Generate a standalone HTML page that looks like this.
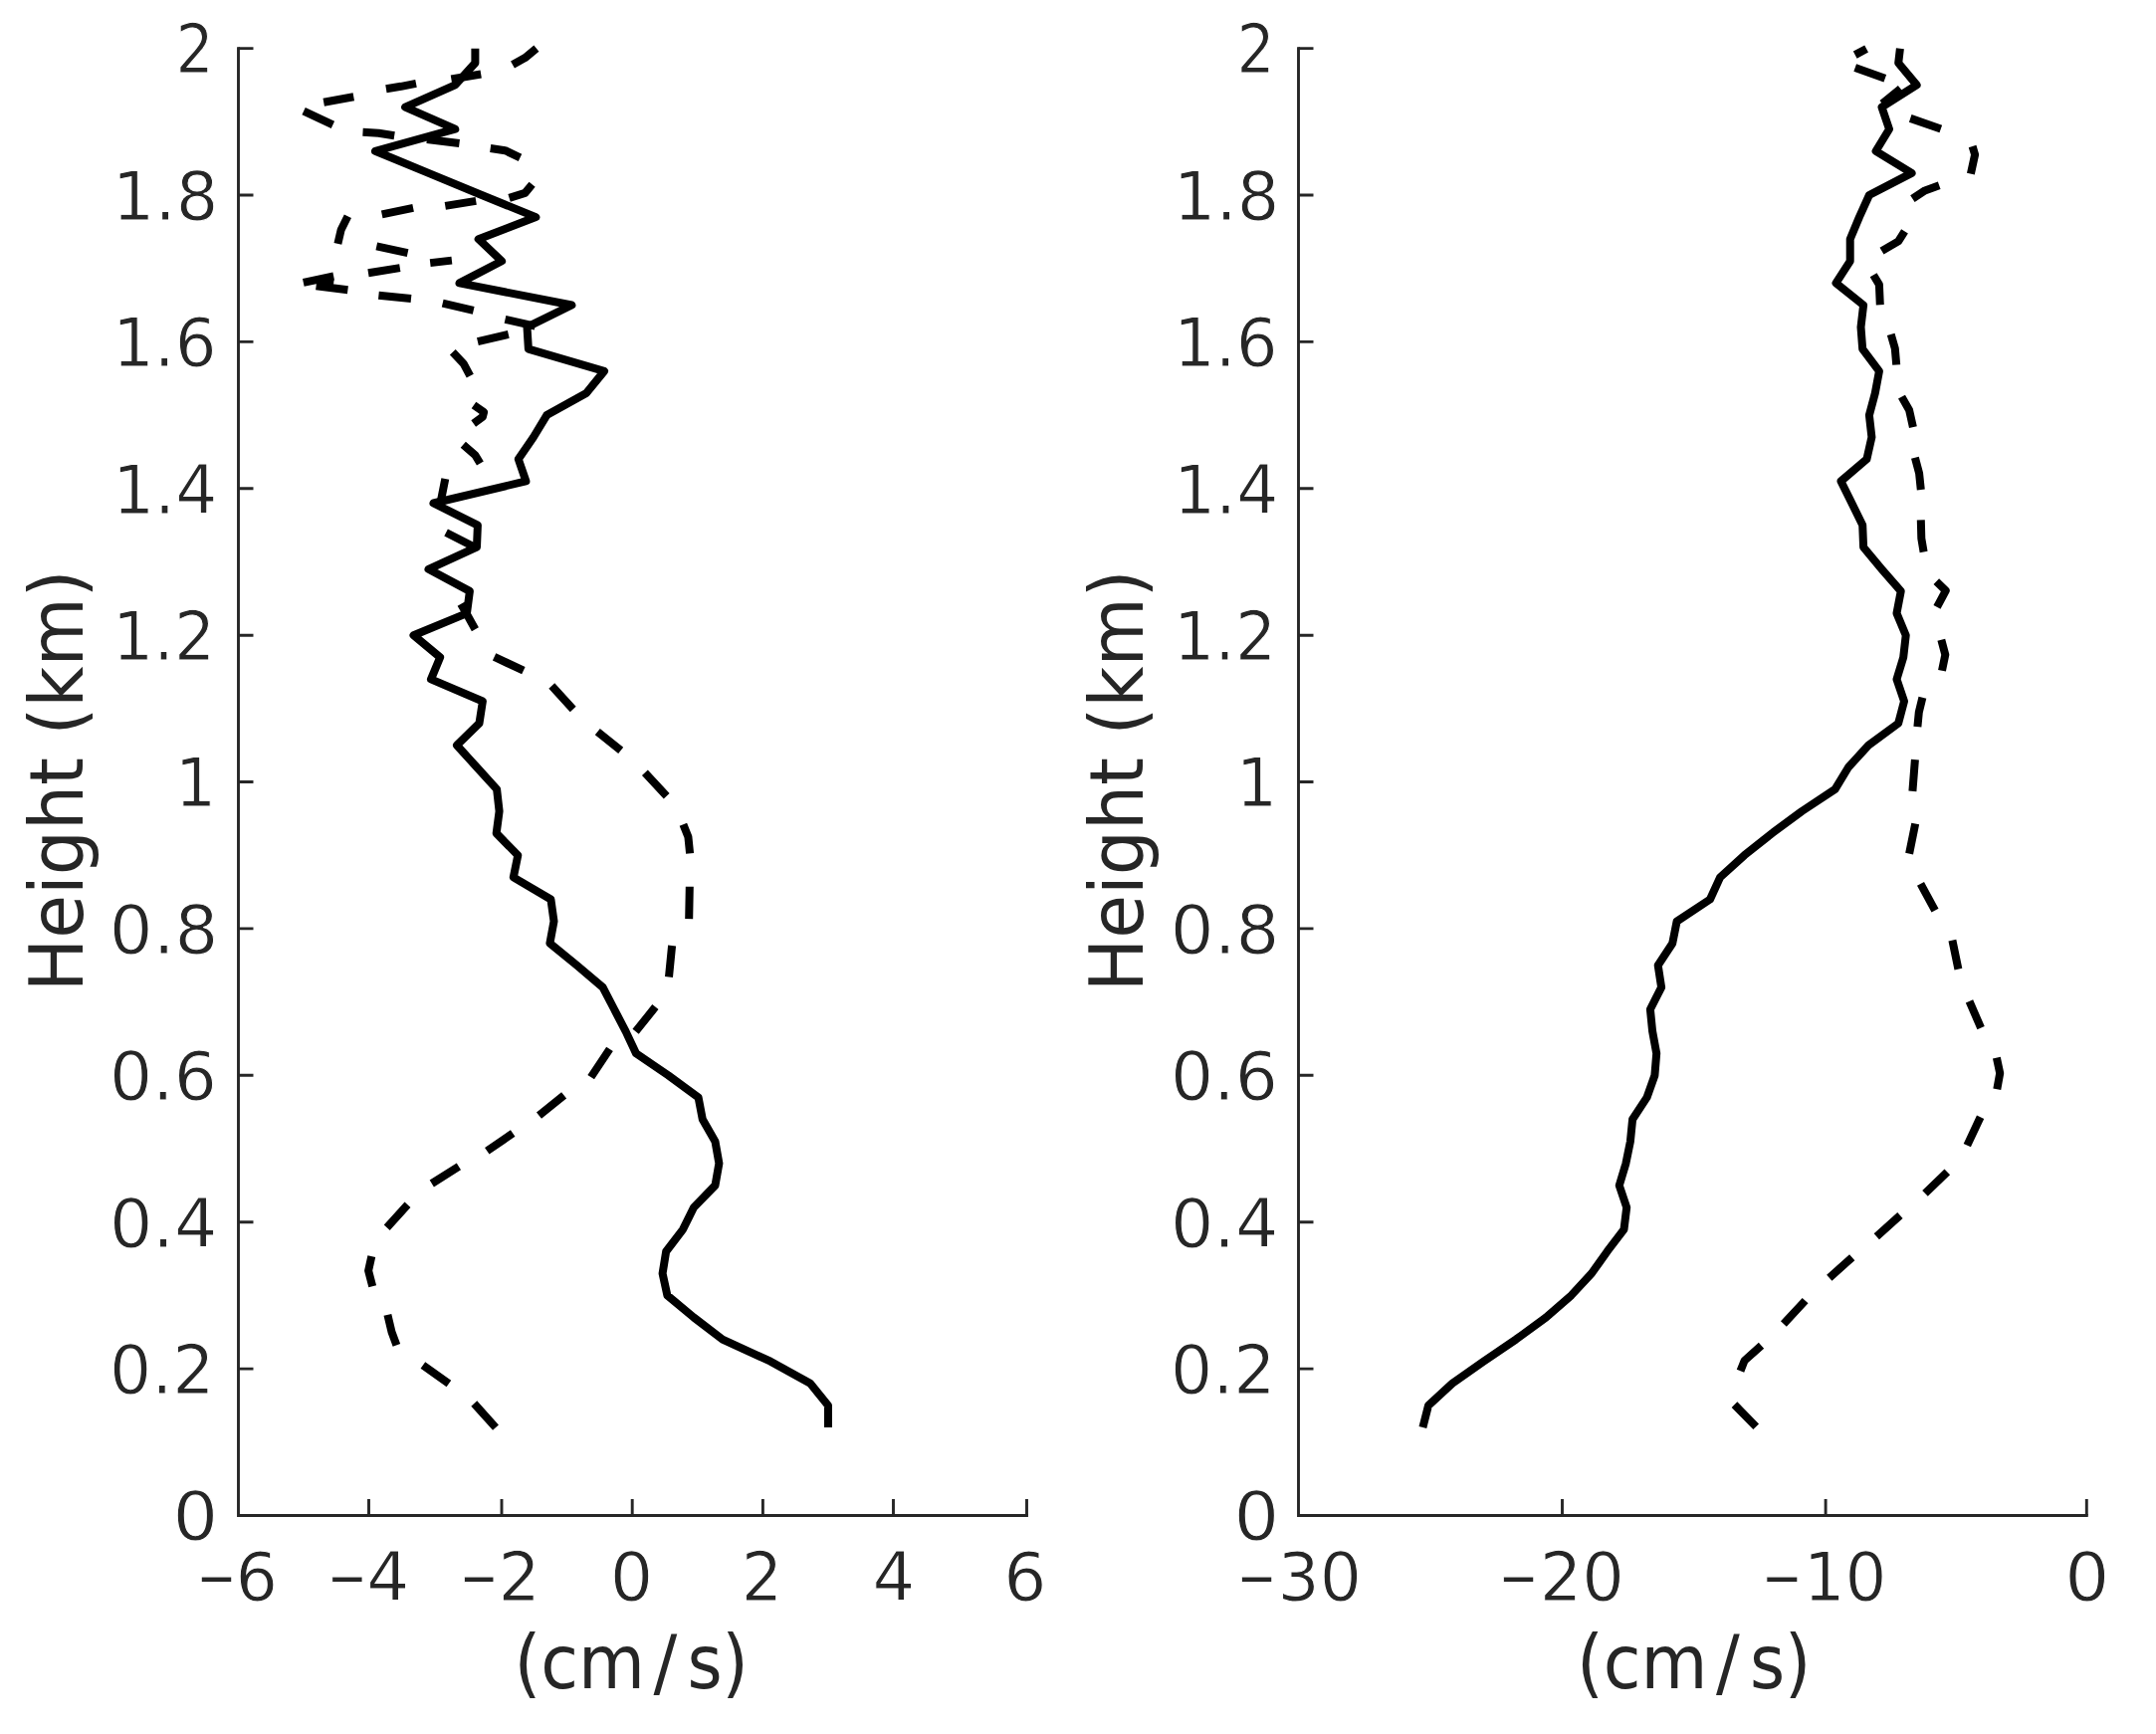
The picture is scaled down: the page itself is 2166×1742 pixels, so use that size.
<!DOCTYPE html>
<html><head><meta charset="utf-8"><title>Height profiles</title>
<style>
html,body{margin:0;padding:0;background:#fff;}
svg{display:block}
text{font-family:"DejaVu Sans","Liberation Sans",sans-serif;fill:#262626}
.t{font-size:68px;stroke:#fff;stroke-width:1px}
.l{font-size:74.5px}
.ax{stroke:#262626;stroke-width:2.9;fill:none;stroke-linecap:square}
.tk{stroke:#262626;stroke-width:2.9;fill:none}
.c{stroke:#000;stroke-width:8;fill:none;stroke-linejoin:round;stroke-linecap:butt}
</style></head><body>
<svg width="2166" height="1742" viewBox="0 0 2166 1742">
<rect width="2166" height="1742" fill="#fff"/>

<path class="ax" d="M239.5 48.7 V1522.5 H1031.5"/>
<text class="t" transform="matrix(1.0563 0 0 1 173.56 1547.30)">0</text>
<text class="t" transform="matrix(0.9769 0 0 1 109.92 1399.91)">0.2</text>
<text class="t" transform="matrix(1.0048 0 0 1 109.89 1252.52)">0.4</text>
<text class="t" transform="matrix(0.9975 0 0 1 109.92 1105.13)">0.6</text>
<text class="t" transform="matrix(1.0130 0 0 1 109.85 957.74)">0.8</text>
<text class="t" transform="matrix(0.9589 0 0 1 175.73 810.35)">1</text>
<text class="t" transform="matrix(0.9527 0 0 1 113.07 662.96)">1.2</text>
<text class="t" transform="matrix(0.9759 0 0 1 112.90 515.57)">1.4</text>
<text class="t" transform="matrix(0.9683 0 0 1 112.96 368.18)">1.6</text>
<text class="t" transform="matrix(0.9842 0 0 1 112.84 220.79)">1.8</text>
<text class="t" transform="matrix(0.8830 0 0 1 176.52 73.40)">2</text>
<text class="t" transform="matrix(0.7142 0 0 1 197.15 1607.80)">−</text>
<text class="t" transform="matrix(0.9853 0 0 1 236.51 1607.80)">6</text>
<text class="t" transform="matrix(0.7095 0 0 1 328.79 1607.80)">−</text>
<text class="t" transform="matrix(0.9970 0 0 1 368.18 1607.80)">4</text>
<text class="t" transform="matrix(0.6883 0 0 1 461.74 1607.80)">−</text>
<text class="t" transform="matrix(0.9783 0 0 1 500.44 1607.80)">2</text>
<text class="t" transform="matrix(1.0067 0 0 1 612.68 1607.80)">0</text>
<text class="t" transform="matrix(0.9592 0 0 1 744.84 1607.80)">2</text>
<text class="t" transform="matrix(0.9915 0 0 1 876.40 1607.80)">4</text>
<text class="t" transform="matrix(0.9999 0 0 1 1008.34 1607.80)">6</text>
<path class="tk" d="M239.5 1375.1 h15 M239.5 1227.7 h15 M239.5 1080.3 h15 M239.5 932.9 h15 M239.5 785.5 h15 M239.5 638.2 h15 M239.5 490.8 h15 M239.5 343.4 h15 M239.5 196.0 h15 M239.5 48.6 h15 M370.5 1522.5 v-16.5 M504.0 1522.5 v-16.5 M635.2 1522.5 v-16.5 M766.4 1522.5 v-16.5 M897.5 1522.5 v-16.5 M1031.5 1522.5 v-16.5"/>
<text class="l" transform="matrix(0.9226 0 0 1 516.39 1695.80)">(cm</text>
<text class="l" transform="matrix(0.9480 0 0 1 656.50 1695.80)">/</text>
<text class="l" transform="matrix(0.9053 0 0 1 690.46 1695.80)">s)</text>
<text class="l" transform="translate(82.8 784.3) rotate(-90) scale(0.955 1)" text-anchor="middle">Height (km)</text>
<path class="ax" d="M1304.5 48.7 V1522.5 H2096.3"/>
<text class="t" transform="matrix(1.0563 0 0 1 1239.56 1547.30)">0</text>
<text class="t" transform="matrix(0.9769 0 0 1 1175.92 1399.91)">0.2</text>
<text class="t" transform="matrix(1.0048 0 0 1 1175.89 1252.52)">0.4</text>
<text class="t" transform="matrix(0.9975 0 0 1 1175.92 1105.13)">0.6</text>
<text class="t" transform="matrix(1.0130 0 0 1 1175.85 957.74)">0.8</text>
<text class="t" transform="matrix(0.9589 0 0 1 1241.73 810.35)">1</text>
<text class="t" transform="matrix(0.9527 0 0 1 1179.07 662.96)">1.2</text>
<text class="t" transform="matrix(0.9759 0 0 1 1178.90 515.57)">1.4</text>
<text class="t" transform="matrix(0.9683 0 0 1 1178.96 368.18)">1.6</text>
<text class="t" transform="matrix(0.9842 0 0 1 1178.84 220.79)">1.8</text>
<text class="t" transform="matrix(0.8830 0 0 1 1242.52 73.40)">2</text>
<text class="t" transform="matrix(0.7095 0 0 1 1242.49 1607.80)">−</text>
<text class="t" transform="matrix(0.9761 0 0 1 1283.46 1607.80)">30</text>
<text class="t" transform="matrix(0.7095 0 0 1 1505.54 1607.80)">−</text>
<text class="t" transform="matrix(0.9864 0 0 1 1546.65 1607.80)">20</text>
<text class="t" transform="matrix(0.7259 0 0 1 1769.87 1607.80)">−</text>
<text class="t" transform="matrix(0.9701 0 0 1 1811.64 1607.80)">10</text>
<text class="t" transform="matrix(1.0417 0 0 1 2074.22 1607.80)">0</text>
<path class="tk" d="M1304.5 1375.1 h15 M1304.5 1227.7 h15 M1304.5 1080.3 h15 M1304.5 932.9 h15 M1304.5 785.5 h15 M1304.5 638.2 h15 M1304.5 490.8 h15 M1304.5 343.4 h15 M1304.5 196.0 h15 M1304.5 48.6 h15 M1569.5 1522.5 v-16.5 M1834.1 1522.5 v-16.5 M2096.3 1522.5 v-16.5"/>
<text class="l" transform="matrix(0.9226 0 0 1 1583.89 1695.80)">(cm</text>
<text class="l" transform="matrix(0.9480 0 0 1 1724.00 1695.80)">/</text>
<text class="l" transform="matrix(0.9053 0 0 1 1757.96 1695.80)">s)</text>
<text class="l" transform="translate(1147.8 784.3) rotate(-90) scale(0.955 1)" text-anchor="middle">Height (km)</text>
<path class="c" d="M832.0 1434.1 L832.0 1412.0 L814.0 1389.8 L774.1 1367.7 L725.9 1345.6 L697.0 1323.5 L670.4 1301.4 L665.6 1279.3 L669.2 1257.2 L686.1 1235.1 L697.0 1213.0 L718.5 1190.9 L722.4 1168.8 L718.5 1146.7 L705.8 1124.5 L701.6 1102.4 L671.3 1080.3 L639.0 1058.2 L628.6 1036.1 L617.1 1014.0 L605.6 991.9 L579.5 969.8 L552.4 947.7 L556.5 925.6 L553.4 903.5 L515.8 881.4 L520.3 859.2 L498.7 837.1 L501.6 815.0 L499.1 792.9 L479.0 770.8 L459.0 748.7 L481.5 726.6 L484.9 704.5 L433.0 682.4 L442.2 660.3 L415.5 638.2 L469.0 616.1 L471.9 593.9 L430.5 571.8 L479.0 549.7 L479.9 527.6 L435.5 505.5 L528.4 483.4 L520.8 461.3 L535.9 439.2 L549.3 417.1 L589.0 395.0 L607.0 372.9 L530.9 350.7 L529.5 328.6 L574.4 306.5 L461.5 284.4 L504.1 262.3 L480.7 240.2 L538.4 218.1 L484.0 196.0 L430.5 173.9 L377.0 151.8 L457.3 129.7 L407.1 107.6 L457.3 85.4 L477.4 63.3 L477.4 48.7"/>
<path class="c" d="M515.0 65.1 L527.5 58.1 L538.9 48.7 M453.4 79.5 L483.2 74.5 M387.9 89.3 L402.9 86.8 L418.0 83.8 M325.2 102.7 L355.3 97.2 M305.1 111.6 L334.4 125.3 M364.5 132.8 L380.4 133.7 L396.2 136.2 M428.9 140.0 L461.5 144.0 M492.7 149.0 L507.5 151.2 L522.5 158.4 M511.6 198.9 L527.5 193.9 L534.6 185.2 M447.3 206.9 L478.2 201.9 M383.7 215.3 L415.1 208.9 M349.4 217.3 L342.7 230.7 L339.4 244.9 M378.3 247.4 L409.6 254.1 M432.2 264.1 L453.9 261.6 M370.0 274.2 L401.8 269.1 M335.2 277.5 L304.8 283.9 M317.6 287.2 L349.4 291.2 M319.3 282.8 L335.2 284.5 M380.4 296.7 L413.0 300.1 M444.7 304.6 L475.7 311.8 M507.5 320.9 L537.6 327.6 M479.9 343.1 L510.8 335.9 M454.8 353.8 L465.6 365.2 L472.3 377.7 M476.0 407.0 L486.1 414.0 L484.9 418.7 L475.7 425.4 M465.3 446.8 L477.4 457.2 L482.4 465.5 M447.3 480.9 L443.1 502.3 M448.1 535.0 L476.5 549.5 M463.1 606.8 L469.8 618.5 L477.4 632.2 M496.6 659.9 L525.9 673.7 M554.3 689.0 L575.7 712.5 M600.3 735.2 L623.7 753.9 M647.9 776.3 L669.7 799.7 M686.4 828.2 L691.4 840.7 L693.1 857.4 M692.8 890.7 L692.2 923.1 M675.1 950.0 L672.0 981.5 M658.4 1011.6 L638.6 1036.2 M612.5 1053.9 L593.7 1082.1 M566.6 1100.3 L541.5 1120.7 M515.2 1138.5 L489.3 1156.2 M460.9 1171.9 L433.8 1189.0 M409.5 1210.3 L388.7 1233.2 M373.3 1262.2 L370.1 1276.6 L374.2 1292.3 M389.4 1320.8 L393.5 1338.1 L398.4 1351.4 M424.9 1371.4 L450.9 1390.0 M476.3 1410.0 L498.0 1434.1"/>
<path class="c" d="M1429.4 1434.1 L1435.0 1412.0 L1459.1 1389.8 L1490.4 1367.7 L1523.0 1345.6 L1553.2 1323.5 L1578.5 1301.4 L1599.0 1279.3 L1614.7 1257.2 L1631.5 1235.1 L1634.2 1213.0 L1626.8 1190.9 L1633.4 1168.8 L1637.9 1146.7 L1640.1 1124.5 L1654.6 1102.4 L1662.4 1080.3 L1664.2 1058.2 L1660.1 1036.1 L1657.9 1014.0 L1669.1 991.9 L1665.7 969.8 L1680.2 947.7 L1684.6 925.6 L1718.0 903.5 L1728.1 881.4 L1752.5 859.2 L1780.3 837.1 L1810.2 815.0 L1843.6 792.9 L1857.0 770.8 L1877.1 748.7 L1907.2 726.6 L1913.0 704.5 L1905.5 682.4 L1912.2 660.3 L1914.7 638.2 L1905.5 616.1 L1909.7 593.9 L1890.5 571.8 L1872.1 549.7 L1871.2 527.6 L1860.4 505.5 L1849.5 483.4 L1875.4 461.3 L1880.4 439.2 L1877.9 417.1 L1883.8 395.0 L1887.9 372.9 L1871.2 350.7 L1869.5 328.6 L1872.1 306.5 L1844.5 284.4 L1858.7 262.3 L1858.7 240.2 L1867.9 218.1 L1877.9 196.0 L1920.6 173.9 L1884.6 151.8 L1898.0 129.7 L1890.5 107.6 L1925.6 85.4 L1907.2 63.3 L1908.9 48.7"/>
<path class="c" d="M1863.7 55.1 L1875.1 49.0 M1863.7 68.1 L1893.8 78.8 M1909.4 89.2 L1891.0 104.2 M1919.2 118.9 L1949.8 129.5 M1981.6 147.0 L1984.1 155.4 L1979.9 174.6 M1948.2 186.3 L1933.9 191.4 L1921.4 199.7 M1913.5 232.3 L1907.2 242.4 L1890.5 252.1 M1882.1 276.2 L1887.9 285.9 L1888.8 306.3 M1899.7 335.9 L1903.8 350.1 L1905.2 366.5 M1910.5 398.6 L1918.1 412.0 L1921.9 429.1 M1923.9 459.7 L1928.1 475.6 L1929.8 492.0 M1929.8 522.4 L1930.3 540.8 L1932.6 554.5 M1945.3 584.2 L1954.8 593.4 L1946.0 609.8 M1950.3 642.7 L1954.3 657.8 L1951.0 673.7 M1931.4 700.8 L1927.8 715.5 L1926.4 730.2 M1923.9 763.1 L1921.4 794.9 M1924.2 827.5 L1918.1 857.6 M1929.5 887.9 L1944.0 914.6 M1961.4 944.6 L1967.4 973.6 M1978.5 1005.9 L1990.1 1032.6 M2005.9 1062.6 L2009.2 1078.2 L2006.3 1094.2 M1989.6 1122.3 L1976.3 1150.6 M1956.3 1177.3 L1934.0 1198.9 M1908.9 1221.0 L1885.3 1242.2 M1860.7 1263.2 L1837.8 1283.7 M1813.6 1306.6 L1791.9 1330.0 M1769.5 1351.7 L1752.6 1366.9 L1748.5 1377.3 M1742.5 1411.1 L1764.2 1433.2"/>
</svg></body></html>
